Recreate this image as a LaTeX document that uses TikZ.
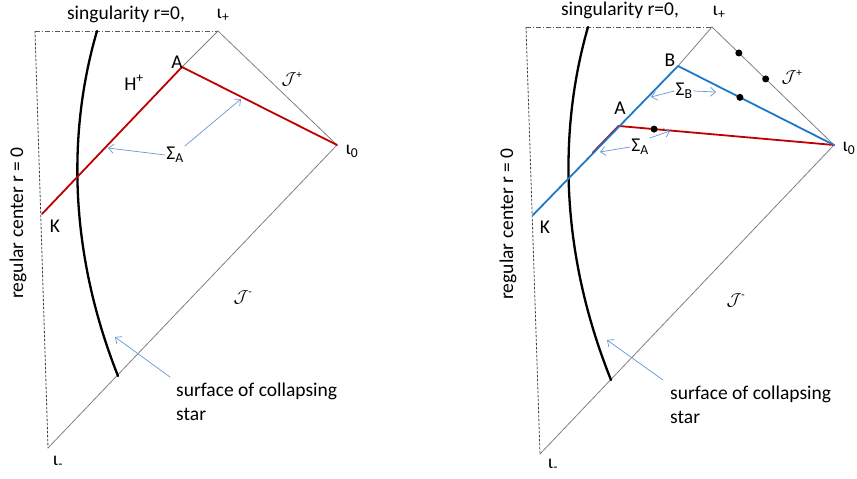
\documentclass[tikz,border=0pt]{standalone}
\usepackage{fontspec}
\setmainfont{Carlito}
\usetikzlibrary{arrows.meta,calc}
\definecolor{pdred}{RGB}{192,0,0}
\definecolor{pdblue}{RGB}{30,120,200}
\definecolor{pdarrow}{RGB}{105,150,215}
\tikzset{
  every picture/.append style={line cap=round,line join=round},
  pd null/.style={gray,line width=0.8pt},
  pd sing/.style={black!65,line width=0.8pt,line cap=butt,dash pattern=on 5pt off 2pt on 1pt off 2pt},
  pd center/.style={black!75,line width=0.8pt,line cap=butt,dash pattern=on 2.5pt off 1.5pt},
  pd star/.style={black,line width=2.3pt},
  pd red/.style={pdred,line width=1.8pt},
  pd blue/.style={pdblue,line width=1.8pt},
  pd pointer/.style={pdarrow,line width=0.7pt,-{Straight Barb[length=5pt,width=9pt]}},
  pd dot/.style={circle,fill=black,inner sep=0pt,minimum size=7pt},
  pd label/.style={font=\fontsize{19.5}{23.5}\selectfont,inner sep=1pt},
  pd scri/.style={font=\fontsize{16}{19}\selectfont,inner sep=1pt}
}
\begin{document}
\begin{tikzpicture}[x=1pt,y=-1pt]
  \useasboundingbox (0,0) rectangle (857,479);

  % left diagram: one slice through A
  \coordinate (lTL) at (35,31);
  \coordinate (lIp) at (218,31);
  \coordinate (lIo) at (337,145);
  \coordinate (lIm) at (48,448);
  \coordinate (lA) at (182,67);
  \coordinate (lK) at (42,214);
  \coordinate (lStarTop) at (97,31);
  \coordinate (lStarEnd) at (118,376);
  \draw[pd sing] (lTL) -- (lIp);
  \draw[pd center] (lTL) -- (lIm);
  \draw[pd null] (lIp) -- (lIo) -- (lIm);
  \draw[pd null] (lIp) -- (lA);
  \draw[pd star] (lStarTop) .. controls (68,130) and (68,250) .. (lStarEnd);
  \draw[pd red] (lK) -- (lA) -- (lIo);

  \node[pd label] (lSing) at (126,14) {singularity r=0,};
  \node[pd label] (lIpL) at (223,15) {ι\textsubscript{+}};
  \node[pd label] (lAL) at (177,62) {A};
  \node[pd label] (lHor) at (134,83) {H\textsuperscript{+}};
  \node[pd scri] (lScriP) at (292,79) {$\mathcal{J}$\textsuperscript{+}};
  \node[pd label] (lIoL) at (352,151) {ι\textsubscript{0}};
  \node[pd label] (lSigA) at (175,155) {Σ\textsubscript{A}};
  \node[pd label] (lKL) at (55,226) {K};
  \node[pd label,rotate=90] (lCen) at (18,223) {regular center r = 0};
  \node[pd scri] (lScriM) at (243,297) {$\mathcal{J}$\textsuperscript{-}};
  \node[pd label,align=left,anchor=north west] (lSurf) at (175,382) {surface of collapsing\\star};
  \node[pd label] (lImL) at (58,462) {ι\textsubscript{-}};

  \coordinate (lHitA) at (108,148);
  \coordinate (lHitB) at (241,99);
  \coordinate (lHitS) at (115,337);
  \draw[pd pointer] (lSigA.west) -- (lHitA);
  \draw[pd pointer] (lSigA.north east) -- (lHitB);
  \draw[pd pointer] ($(lSurf.north west)+(-5,-5)$) -- (lHitS);

  % right diagram: slices through A and B
  \coordinate (rTL) at (526,27);
  \coordinate (rIp) at (712,27);
  \coordinate (rIo) at (834,145);
  \coordinate (rIm) at (540,454);
  \coordinate (rA) at (619,126);
  \coordinate (rB) at (678,66);
  \coordinate (rK) at (533,215);
  \coordinate (rStarTop) at (588,27);
  \coordinate (rStarEnd) at (611,380);
  \draw[pd sing] (rTL) -- (rIp);
  \draw[pd center] (rTL) -- (rIm);
  \draw[pd null] (rIp) -- (rIo) -- (rIm);
  \draw[pd null] (rIp) -- (rB);
  \draw[pd star] (rStarTop) .. controls (559,128) and (559,250) .. (rStarEnd);
  \draw[pd red] ([xshift=-0.5pt]$(rA)!0.3!(rK)$) -- ([xshift=-0.5pt]rA);
  \draw[pd red] (rA) -- (rIo);
  \draw[pd blue] (rK) -- (rB) -- (rIo);

  \node[pd dot] (rDotA) at ($(rA)!0.163!(rIo)$) {};
  \node[pd dot] (rDotB) at ($(rB)!0.397!(rIo)$) {};
  \node[pd dot] (rDotP) at ($(rIp)!0.22!(rIo)$) {};
  \node[pd dot] (rDotQ) at ($(rIp)!0.44!(rIo)$) {};

  \node[pd label] (rSing) at (620,10) {singularity r=0,};
  \node[pd label] (rIpL) at (719,12) {ι\textsubscript{+}};
  \node[pd label] (rBL) at (670,60) {B};
  \node[pd label] (rAL) at (620,108) {A};
  \node[pd scri] (rScriP) at (792,77) {$\mathcal{J}$\textsuperscript{+}};
  \node[pd label] (rIoL) at (849,148) {ι\textsubscript{0}};
  \node[pd label] (rSigB) at (684,91) {Σ\textsubscript{B}};
  \node[pd label] (rSigA) at (640,147) {Σ\textsubscript{A}};
  \node[pd label] (rKL) at (545,227) {K};
  \node[pd label,rotate=90] (rCen) at (508,224) {regular center r = 0};
  \node[pd scri] (rScriM) at (736,300) {$\mathcal{J}$\textsuperscript{-}};
  \node[pd label,align=left,anchor=north west] (rSurf) at (669,385) {surface of collapsing\\star};
  \node[pd label] (rImL) at (553,465) {ι\textsubscript{-}};

  \coordinate (rHitBl) at (651,97);
  \coordinate (rHitBr) at (716,92);
  \coordinate (rHitAl) at (600,152);
  \coordinate (rHitAr) at (670,131);
  \coordinate (rHitS) at (607,340);
  \draw[pd pointer] (rSigB.west) -- (rHitBl);
  \draw[pd pointer] (rSigB.east) -- (rHitBr);
  \draw[pd pointer] (rSigA.west) -- (rHitAl);
  \draw[pd pointer] (rSigA.north east) -- (rHitAr);
  \draw[pd pointer] ($(rSurf.north west)+(-6,-5)$) -- (rHitS);
\end{tikzpicture}
\end{document}
